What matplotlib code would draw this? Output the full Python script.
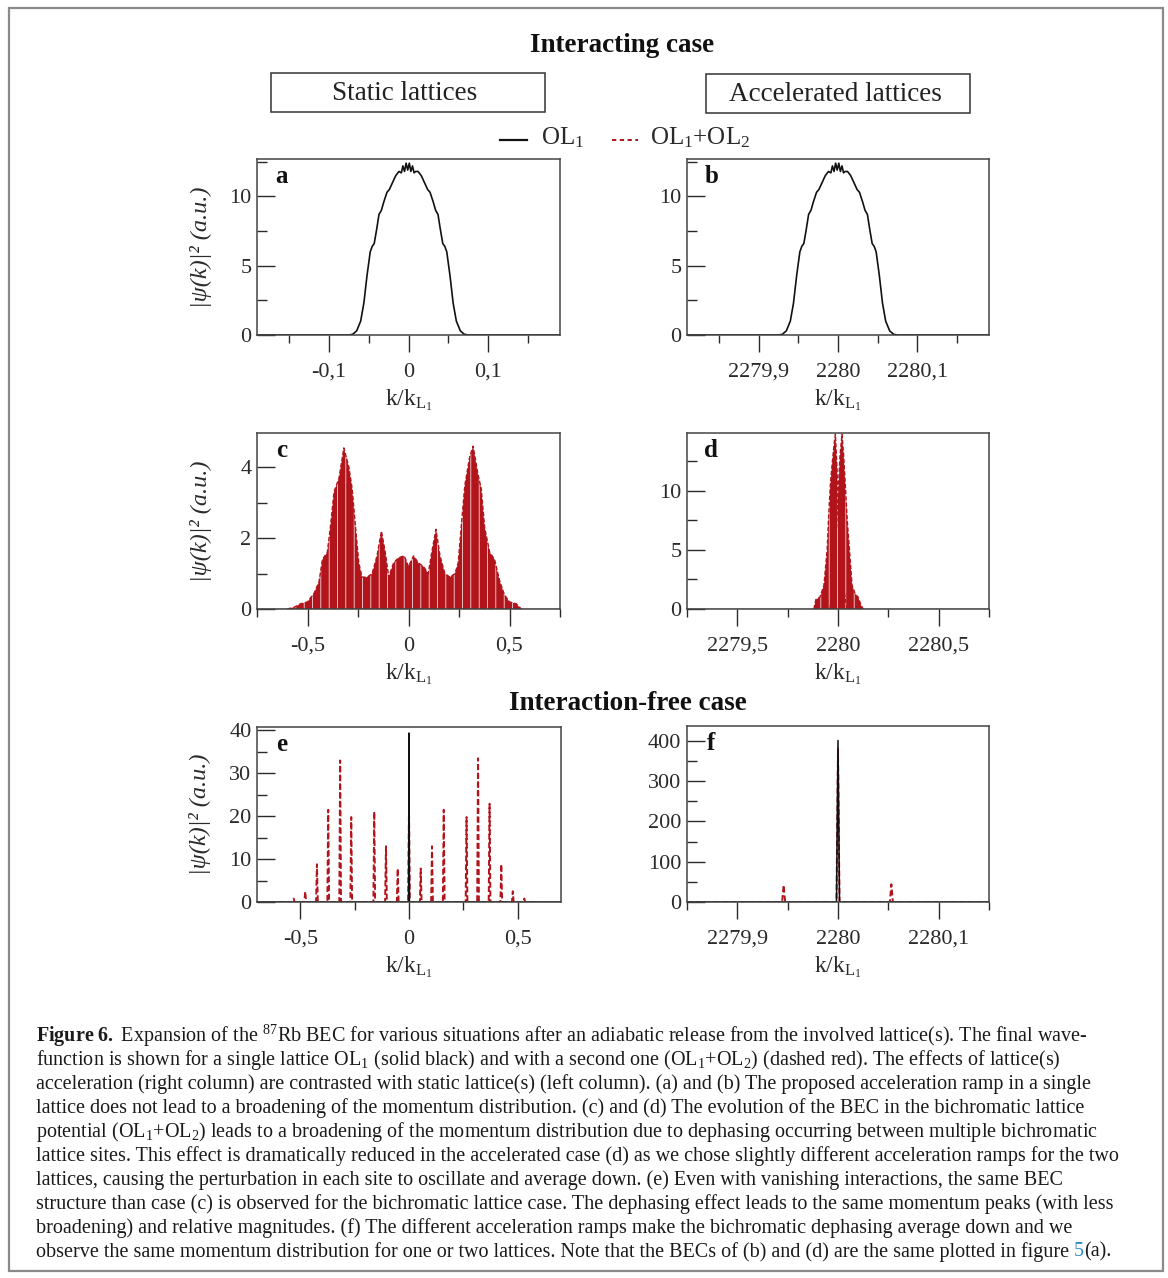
import numpy as np
import matplotlib
matplotlib.use('Agg')
import matplotlib.pyplot as plt
from matplotlib.ticker import MultipleLocator, FuncFormatter
from matplotlib.patches import Rectangle
from matplotlib.lines import Line2D

plt.rcParams['font.family'] = ['Liberation Serif', 'DejaVu Serif']
plt.rcParams['mathtext.fontset'] = 'custom'
plt.rcParams['mathtext.rm'] = 'Liberation Serif'
plt.rcParams['mathtext.it'] = 'Liberation Serif:italic'
plt.rcParams['mathtext.bf'] = 'Liberation Serif:bold'
plt.rcParams['hatch.linewidth'] = 0.5

RED = '#b2141c'
INK = '#2a2a2a'

# ---- data ----
# (a) static single lattice, interacting
a_k = [-0.19, -0.075, -0.07, -0.065, -0.06, -0.056, -0.052, -0.048, -0.0455, -0.043,
       -0.040, -0.037, -0.034, -0.031, -0.027, -0.024, -0.020, -0.016, -0.012, -0.009,
       -0.007, -0.005, -0.003, -0.001, 0.001, 0.003, 0.005, 0.007, 0.009, 0.012, 0.016,
       0.020, 0.024, 0.027, 0.031, 0.034, 0.037, 0.040, 0.043, 0.0455, 0.048, 0.052,
       0.056, 0.06, 0.065, 0.07, 0.075, 0.19]
a_psi = [0, 0, 0.05, 0.3, 1.0, 2.3, 4.3, 6.0, 6.4, 6.6,
         7.6, 8.7, 9.0, 9.6, 10.3, 10.5, 11.0, 11.5, 11.8, 11.7,
         12.2, 11.8, 12.4, 11.9, 12.4, 11.8, 12.2, 11.7, 11.8, 11.8, 11.5,
         11.0, 10.5, 10.3, 9.6, 9.0, 8.7, 7.6, 6.6, 6.4, 6.0, 4.3,
         2.3, 1.0, 0.3, 0.05, 0, 0]
# (b) accelerated single lattice: same profile around k = 2280
b_centre = 2280.0

# (c) static bichromatic, interacting: envelope of the dense dashed trace
c_k = [-0.6, -0.566, -0.533, -0.5, -0.467, -0.443, -0.426, -0.402, -0.385, -0.369,
       -0.344, -0.32, -0.295, -0.279, -0.262, -0.246, -0.23, -0.205, -0.18, -0.156,
       -0.134, -0.115, -0.098, -0.074, -0.049, -0.021, 0.0, 0.025, 0.049, 0.074,
       0.098, 0.115, 0.136, 0.156, 0.18, 0.205, 0.23, 0.246, 0.262, 0.279, 0.303,
       0.32, 0.344, 0.36, 0.377, 0.402, 0.426, 0.451, 0.475, 0.5, 0.533, 0.549, 0.56]
c_top = [0, 0.05, 0.15, 0.2, 0.45, 0.77, 1.4, 1.6, 2.4, 3.3,
         3.7, 4.55, 4.0, 3.4, 2.3, 1.3, 0.9, 0.9, 1.0, 1.5,
         2.2, 1.6, 0.9, 1.3, 1.45, 1.5, 1.2, 1.5, 1.3, 1.2,
         1.0, 1.6, 2.25, 1.5, 1.0, 0.9, 1.0, 1.3, 2.4, 3.5, 4.3,
         4.6, 3.8, 3.4, 2.3, 1.6, 1.4, 0.8, 0.4, 0.2, 0.15, 0.05, 0]

# (d) accelerated bichromatic, interacting: two overlapping lobes
d_left_k = [2279.88, 2279.89, 2279.91, 2279.93, 2279.946, 2279.954, 2279.962, 2279.972,
            2279.981, 2279.987, 2279.995, 2280.003, 2280.015, 2280.03, 2280.045]
d_left_psi = [0, 0.8, 1.0, 2.0, 5.0, 8.0, 10.5, 12.5, 14.0, 14.8, 12.0, 8.0, 4.0, 1.5, 0]
d_right_k = [2279.96, 2279.975, 2279.99, 2280.0, 2280.01, 2280.02, 2280.028, 2280.038,
             2280.046, 2280.057, 2280.07, 2280.085, 2280.1, 2280.115, 2280.125]
d_right_psi = [0, 2.0, 6.0, 9.5, 13.0, 14.8, 13.0, 10.0, 7.5, 5.0, 2.0, 1.3, 1.0, 0.3, 0]

# (e) static, interaction-free: momentum peaks
e_peak_k = [-0.531, -0.478, -0.424, -0.372, -0.317, -0.266, -0.160, -0.106, -0.052, 0.0,
            0.054, 0.106, 0.160, 0.265, 0.318, 0.371, 0.425, 0.478, 0.531]
e_peak_psi = [0.8, 2.5, 8.8, 21.5, 33.0, 19.8, 21.1, 13.0, 7.8, 21.7,
              7.8, 13.0, 21.5, 19.8, 33.5, 22.9, 8.8, 2.5, 0.8]
e_ol1_k = [0.0]
e_ol1_psi = [39.4]

# (f) accelerated, interaction-free
f_peak_k = [2279.946, 2280.0, 2280.053]
f_peak_psi = [42, 380, 44]
f_ol1_k = [2280.0]
f_ol1_psi = [401]


def spikes(centres, heights, hw, k0, k1):
    k = [k0]
    y = [0]
    for c, h in zip(centres, heights):
        k += [c - hw, c, c + hw]
        y += [0, h, 0]
    k.append(k1)
    y.append(0)
    return k, y


W, H = 1168, 1278
fig = plt.figure(figsize=(W / 100, H / 100), dpi=100)


def fx(px):
    return px / W


def fy(py):
    return 1 - py / H


def comma(v, pos):
    return ('%g' % round(v, 4)).replace('.', ',')


def make_ax(x0, y0, x1, y1, xlim, ylim, xmaj, xmin, ymaj, ymin, letter, ylab):
    ax = fig.add_axes([fx(x0), fy(y1), (x1 - x0) / W, (y1 - y0) / H])
    ax.set_xlim(xlim)
    ax.set_ylim(ylim)
    ax.xaxis.set_major_locator(MultipleLocator(xmaj))
    ax.xaxis.set_minor_locator(MultipleLocator(xmin))
    ax.yaxis.set_major_locator(MultipleLocator(ymaj))
    ax.yaxis.set_minor_locator(MultipleLocator(ymin))
    ax.xaxis.set_major_formatter(FuncFormatter(comma))
    ax.yaxis.set_major_formatter(FuncFormatter(comma))
    ax.tick_params(axis='x', which='major', direction='out', length=12, width=1,
                   color=INK, labelsize=16, pad=8, labelcolor=INK)
    ax.tick_params(axis='x', which='minor', direction='out', length=6, width=1, color=INK)
    ax.tick_params(axis='y', which='major', direction='in', length=13, width=1,
                   color=INK, labelsize=16, pad=4, labelcolor=INK)
    ax.tick_params(axis='y', which='minor', direction='in', length=7, width=1, color=INK)
    for s in ax.spines.values():
        s.set_color('#444444')
        s.set_linewidth(1.1)
    ax.text(0.08, 0.9, letter, transform=ax.transAxes, fontsize=18, fontweight='bold',
            ha='center', va='center', color='#111111')
    ax.set_xlabel(r'$\mathregular{k/k_{L_1}}$', fontsize=17, color=INK)
    ax.xaxis.set_label_coords(0.5, -0.30)
    if ylab:
        ax.set_ylabel('|ψ(k)|² (a.u.)', fontsize=17.5, fontstyle='italic', color=INK)
        ax.yaxis.set_label_coords(-0.15, 0.5)
    return ax


# outer frame
fig.add_artist(Rectangle((fx(8.5), fy(1271)), (1163 - 8.5) / W, (1271 - 7.5) / H,
                         transform=fig.transFigure, fill=False, edgecolor='#8a8a8a', lw=1.6))

fig.text(fx(622), fy(45), 'Interacting case', fontsize=19.5, fontweight='bold',
         ha='center', va='center', color='#111111')
fig.text(fx(628), fy(704), 'Interaction-free case', fontsize=19.5, fontweight='bold',
         ha='center', va='center', color='#111111')

for (x0, x1, y0, y1, label) in [(271, 545, 73, 112, 'Static lattices'),
                                (706, 970, 74, 113, 'Accelerated lattices')]:
    fig.add_artist(Rectangle((fx(x0), fy(y1)), (x1 - x0) / W, (y1 - y0) / H,
                             transform=fig.transFigure, fill=False, edgecolor='#333333', lw=1.1))
    fig.text(fx((x0 + x1) / 2 - 3), fy((y0 + y1) / 2 + 1), label, fontsize=19.5,
             ha='center', va='center', color='#222222')

# legend
fig.add_artist(Line2D([fx(500), fx(527)], [fy(140), fy(140)], transform=fig.transFigure,
                      color='#111111', lw=1.6))
fig.text(fx(541), fy(138), r'$\mathregular{OL_1}$', fontsize=18, ha='left', va='center', color=INK)
fig.add_artist(Line2D([fx(612), fx(638)], [fy(140), fy(140)], transform=fig.transFigure,
                      color=RED, lw=1.4, dashes=(2.2, 1.8)))
fig.text(fx(650), fy(138), r'$\mathregular{OL_1{+}OL_2}$', fontsize=18, ha='left', va='center',
         color=INK)

# (a)
ax = make_ax(257, 159, 560, 335, (-0.19, 0.19), (0, 12.7), 0.1, 0.05, 5, 2.5, 'a', True)
ax.plot(a_k, a_psi, color='#111111', lw=1.2)

# (b)
ax = make_ax(687, 159, 989, 335, (2279.81, 2280.19), (0, 12.7), 0.1, 0.05, 5, 2.5, 'b', False)
ax.plot(b_centre + np.array(a_k), a_psi, color='#111111', lw=1.2)

# (c)
ax = make_ax(257, 433, 560, 609, (-0.75, 0.75), (0, 4.97), 0.5, 0.25, 2, 1, 'c', True)
ax.fill_between(c_k, 0, c_top, facecolor=RED, edgecolor='white', hatch='||', lw=0)
ax.plot(c_k, c_top, color=RED, lw=1.0, dashes=(3, 1.5))
ax.plot([-0.75, 0.75], [0, 0], color='#111111', lw=1.0)

# (d)
ax = make_ax(687, 433, 989, 609, (2279.25, 2280.75), (0, 14.9), 0.5, 0.25, 5, 2.5, 'd', False)
ax.fill_between(d_left_k, 0, d_left_psi, facecolor=RED, edgecolor='white', hatch='||', lw=0)
ax.fill_between(d_right_k, 0, d_right_psi, facecolor=RED, edgecolor='white', hatch='||', lw=0)
ax.plot(d_left_k, d_left_psi, color=RED, lw=1.0, dashes=(3, 1.5))
ax.plot(d_right_k, d_right_psi, color=RED, lw=1.0, dashes=(3, 1.5))
ax.plot([2279.25, 2280.75], [0, 0], color='#111111', lw=1.0)

# (e)
ax = make_ax(257, 727, 561, 902, (-0.7, 0.7), (0, 40.8), 0.5, 0.25, 10, 5, 'e', True)
ek, ey = spikes(e_peak_k, e_peak_psi, 0.004, -0.6, 0.6)
ax.plot(ek, ey, color=RED, lw=1.4, dashes=(3, 1.5))
ok, oy = spikes(e_ol1_k, e_ol1_psi, 0.002, -0.7, 0.7)
ax.plot(ok, oy, color='#111111', lw=1.1)

# (f)
ax = make_ax(687, 726, 989, 902, (2279.85, 2280.15), (0, 437), 0.1, 0.05, 100, 50, 'f', False)
fk, fyv = spikes(f_peak_k, f_peak_psi, 0.0015, 2279.85, 2280.15)
ax.plot(fk, fyv, color=RED, lw=1.4, dashes=(3, 1.5))
ok, oy = spikes(f_ol1_k, f_ol1_psi, 0.0015, 2279.85, 2280.15)
ax.plot(ok, oy, color='#111111', lw=1.1)

# caption
cap = [
    r'$\mathbf{Figure\ 6.}$ Expansion of the $^{87}$Rb BEC for various situations after an adiabatic release from the involved lattice(s). The final wave-',
    r'function is shown for a single lattice OL$_1$ (solid black) and with a second one (OL$_1$+OL$_2$) (dashed red). The effects of lattice(s)',
    'acceleration (right column) are contrasted with static lattice(s) (left column). (a) and (b) The proposed acceleration ramp in a single',
    'lattice does not lead to a broadening of the momentum distribution. (c) and (d) The evolution of the BEC in the bichromatic lattice',
    r'potential (OL$_1$+OL$_2$) leads to a broadening of the momentum distribution due to dephasing occurring between multiple bichromatic',
    'lattice sites. This effect is dramatically reduced in the accelerated case (d) as we chose slightly different acceleration ramps for the two',
    'lattices, causing the perturbation in each site to oscillate and average down. (e) Even with vanishing interactions, the same BEC',
    'structure than case (c) is observed for the bichromatic lattice case. The dephasing effect leads to the same momentum peaks (with less',
    'broadening) and relative magnitudes. (f) The different acceleration ramps make the bichromatic dephasing average down and we',
    'observe the same momentum distribution for one or two lattices. Note that the BECs of (b) and (d) are the same plotted in figure ',
]
cap_size = 14.5
renderer = fig.canvas.get_renderer()
for i, line in enumerate(cap):
    t = fig.text(fx(36), fy(1036 + 24 * i), line, fontsize=cap_size, ha='left', va='center',
                 color='#1a1a1a')
last = t
bb = last.get_window_extent(renderer=renderer)
x_end = bb.x1 / W
t5 = fig.text(x_end, fy(1036 + 24 * 9), '5', fontsize=cap_size, ha='left', va='center',
              color='#2a8ac8')
bb5 = t5.get_window_extent(renderer=renderer)
fig.text(bb5.x1 / W, fy(1036 + 24 * 9), '(a).', fontsize=cap_size, ha='left', va='center',
         color='#1a1a1a')

fig.savefig('out.png', dpi=100)
